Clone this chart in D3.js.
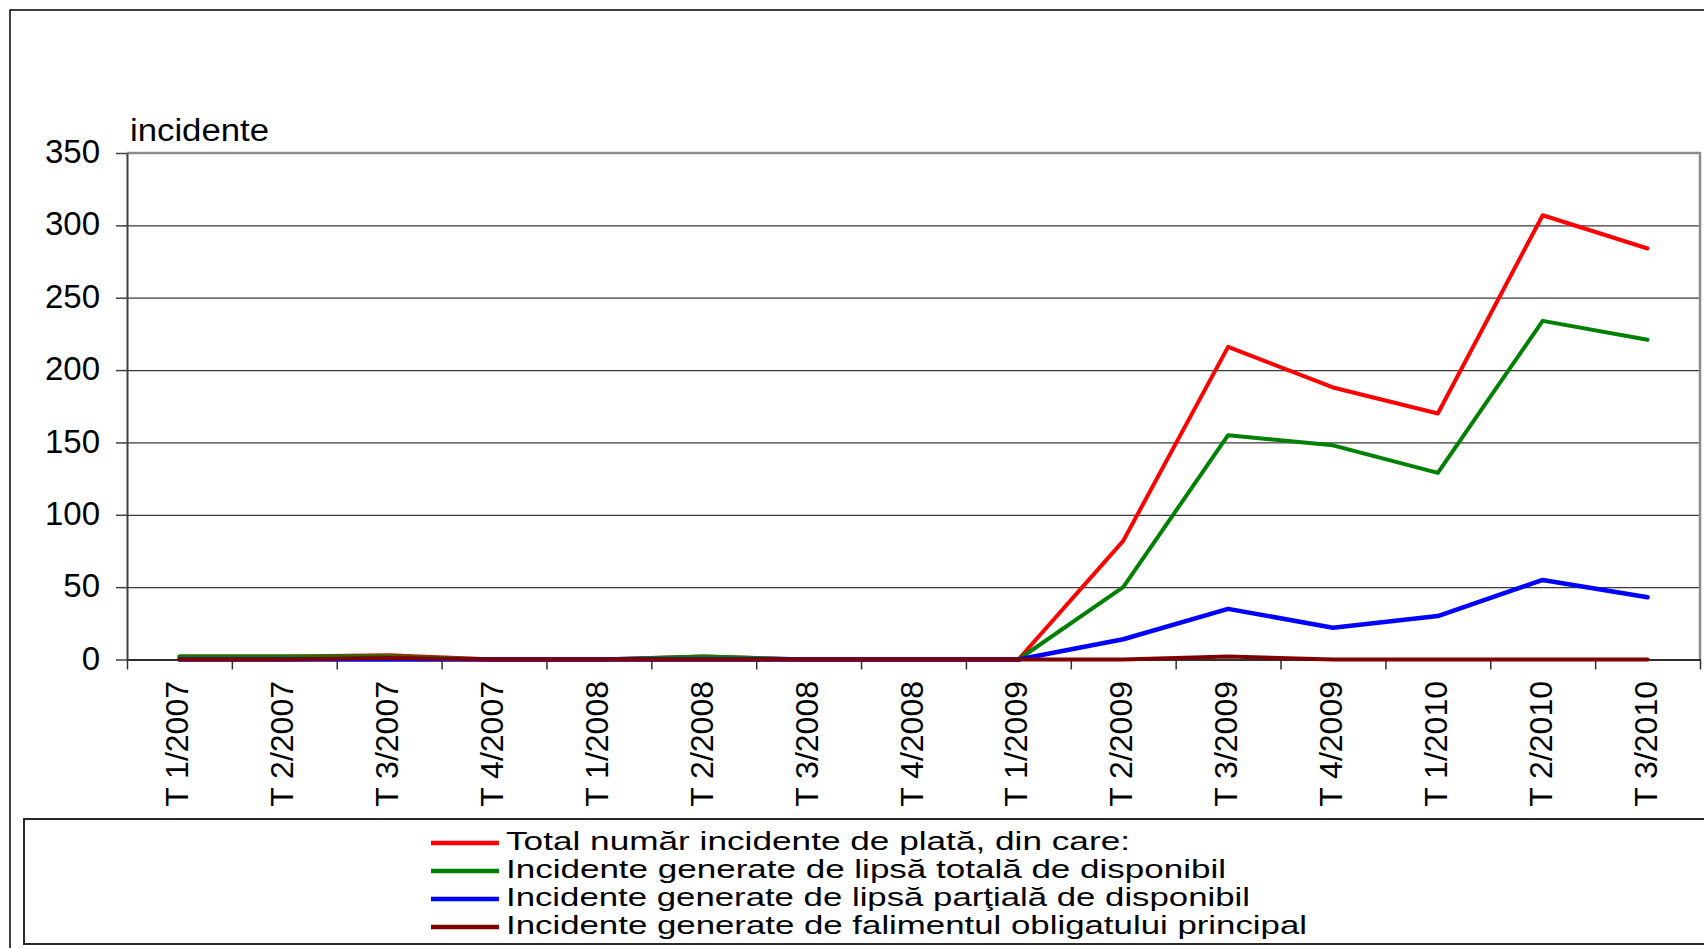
<!DOCTYPE html>
<html>
<head>
<meta charset="utf-8">
<script src="https://cdn.jsdelivr.net/npm/d3@7"></script>
<style>
  html, body { margin: 0; padding: 0; background: #fff; }
  svg { display: block; font-family: "Liberation Sans", Arial, sans-serif; }
</style>
</head>
<body>
<svg id="chart" width="1704" height="948"></svg>
<script>
// quarters on the category axis
const quarters = [
    'T 1/2007', 'T 2/2007', 'T 3/2007', 'T 4/2007',
    'T 1/2008', 'T 2/2008', 'T 3/2008', 'T 4/2008',
    'T 1/2009', 'T 2/2009', 'T 3/2009', 'T 4/2009',
    'T 1/2010', 'T 2/2010', 'T 3/2010'
];

// values
const totalIncidents   = [2, 2, 3, 0, 0, 2, 0, 0, 0, 82, 216, 188, 170, 307, 284];
const lackTotal        = [2, 2, 2, 0, 0, 2, 0, 0, 0, 50, 155, 148, 129, 234, 221];
const lackPartial      = [0, 0, 0, 0, 0, 0, 0, 0, 0, 14, 35, 22, 30, 55, 43];
const bankruptcy       = [0, 0, 1, 0, 0, 0, 0, 0, 0, 0, 2, 0, 0, 0, 0];

const yTicks = [0, 50, 100, 150, 200, 250, 300, 350];

const seriesNames = [
    'Total număr incidente de plată, din care:',
    'Incidente generate de lipsă totală de disponibil',
    'Incidente generate de lipsă parţială de disponibil',
    'Incidente generate de falimentul obligatului principal'
];
const seriesColors = ['#ff0000', '#008000', '#0000ff', '#800000'];
const seriesValues = [totalIncidents, lackTotal, lackPartial, bankruptcy];

const svg = d3.select('#chart');

const plot = { left: 127, right: 1700, top: 153, bottom: 659.5 };

// outer frame
svg.append('rect')
    .attr('x', 10).attr('y', 10)
    .attr('width', 1720).attr('height', 1000)
    .attr('fill', 'none')
    .attr('stroke', '#000')
    .attr('stroke-width', 1.5);

const x = d3.scaleBand()
    .domain(quarters)
    .range([plot.left, plot.right])
    .padding(0);

const xEdges = d3.scaleLinear()
    .domain([0, quarters.length])
    .range([plot.left, plot.right]);

const y = d3.scaleLinear()
    .domain([0, 350])
    .range([plot.bottom, plot.top]);

// gridlines
svg.append('g')
    .attr('transform', `translate(${plot.left},0)`)
    .call(d3.axisLeft(y).tickValues(yTicks.slice(1, -1)).tickSize(-(plot.right - plot.left)).tickFormat(''))
    .call(g => g.select('.domain').remove())
    .call(g => g.selectAll('line').attr('stroke', '#3a3a3a').attr('stroke-width', 1.2));

// plot border top / right (grey)
svg.append('path')
    .attr('d', `M${plot.left},${y(350)}H${plot.right}V${plot.bottom}`)
    .attr('fill', 'none')
    .attr('stroke', '#8c8c8c')
    .attr('stroke-width', 2.5);

// y axis
const yAxis = svg.append('g')
    .attr('transform', `translate(${plot.left},0)`)
    .call(d3.axisLeft(y).tickValues(yTicks).tickSize(11).tickPadding(16).tickSizeOuter(0));
yAxis.select('.domain').attr('stroke', '#404040').attr('stroke-width', 2);
yAxis.selectAll('line').attr('stroke', '#404040').attr('stroke-width', 1.5);
yAxis.selectAll('text')
    .attr('font-size', 33)
    .attr('font-family', '"Liberation Sans", Arial, sans-serif')
    .attr('fill', '#000')
    .attr('dy', '0.29em');

// x axis ticks between categories
const xAxis = svg.append('g')
    .attr('transform', `translate(0,${plot.bottom})`)
    .call(d3.axisBottom(xEdges).tickValues(d3.range(quarters.length + 1)).tickSize(10).tickFormat('').tickSizeOuter(0));
xAxis.select('.domain').attr('stroke', '#303030').attr('stroke-width', 2);
xAxis.selectAll('line').attr('stroke', '#303030').attr('stroke-width', 1.5);

// rotated category labels
svg.append('g')
    .selectAll('text')
    .data(quarters)
    .enter()
    .append('text')
    .attr('transform', d => `translate(${x(d) + x.bandwidth() / 2 + 9},681) rotate(-90)`)
    .attr('text-anchor', 'end')
    .attr('font-size', 32)
    .attr('fill', '#000')
    .text(d => d);

// unit label
svg.append('text')
    .attr('x', 130)
    .attr('y', 141)
    .attr('font-size', 31)
    .attr('textLength', 139)
    .attr('lengthAdjust', 'spacingAndGlyphs')
    .attr('fill', '#000')
    .text('incidente');

// lines
const line = d3.line()
    .x((d, i) => x(quarters[i]) + x.bandwidth() / 2)
    .y(d => y(d));

svg.append('g')
    .selectAll('path')
    .data(seriesValues)
    .enter()
    .append('path')
    .attr('d', d => line(d))
    .attr('fill', 'none')
    .attr('stroke', (d, i) => seriesColors[i])
    .attr('stroke-width', (d, i) => i === 2 ? 4.5 : 4)
    .attr('stroke-linejoin', 'round')
    .attr('stroke-linecap', 'round');

// legend
svg.append('rect')
    .attr('x', 24).attr('y', 819)
    .attr('width', 1700).attr('height', 125)
    .attr('fill', '#fff')
    .attr('stroke', '#2a2a2a')
    .attr('stroke-width', 2);

const legendRowY = [843, 871, 899, 927];
const legendTextWidth = [624, 720, 744, 801];

const legend = svg.append('g')
    .selectAll('g')
    .data(seriesNames)
    .enter()
    .append('g')
    .attr('transform', (d, i) => `translate(0,${legendRowY[i]})`);

legend.append('line')
    .attr('x1', 431).attr('x2', 499)
    .attr('stroke', (d, i) => seriesColors[i])
    .attr('stroke-width', 4.5);

legend.append('text')
    .attr('x', 506)
    .attr('y', 7)
    .attr('font-size', 25.5)
    .attr('textLength', (d, i) => legendTextWidth[i])
    .attr('lengthAdjust', 'spacingAndGlyphs')
    .attr('fill', '#000')
    .text(d => d);
</script>
</body>
</html>
